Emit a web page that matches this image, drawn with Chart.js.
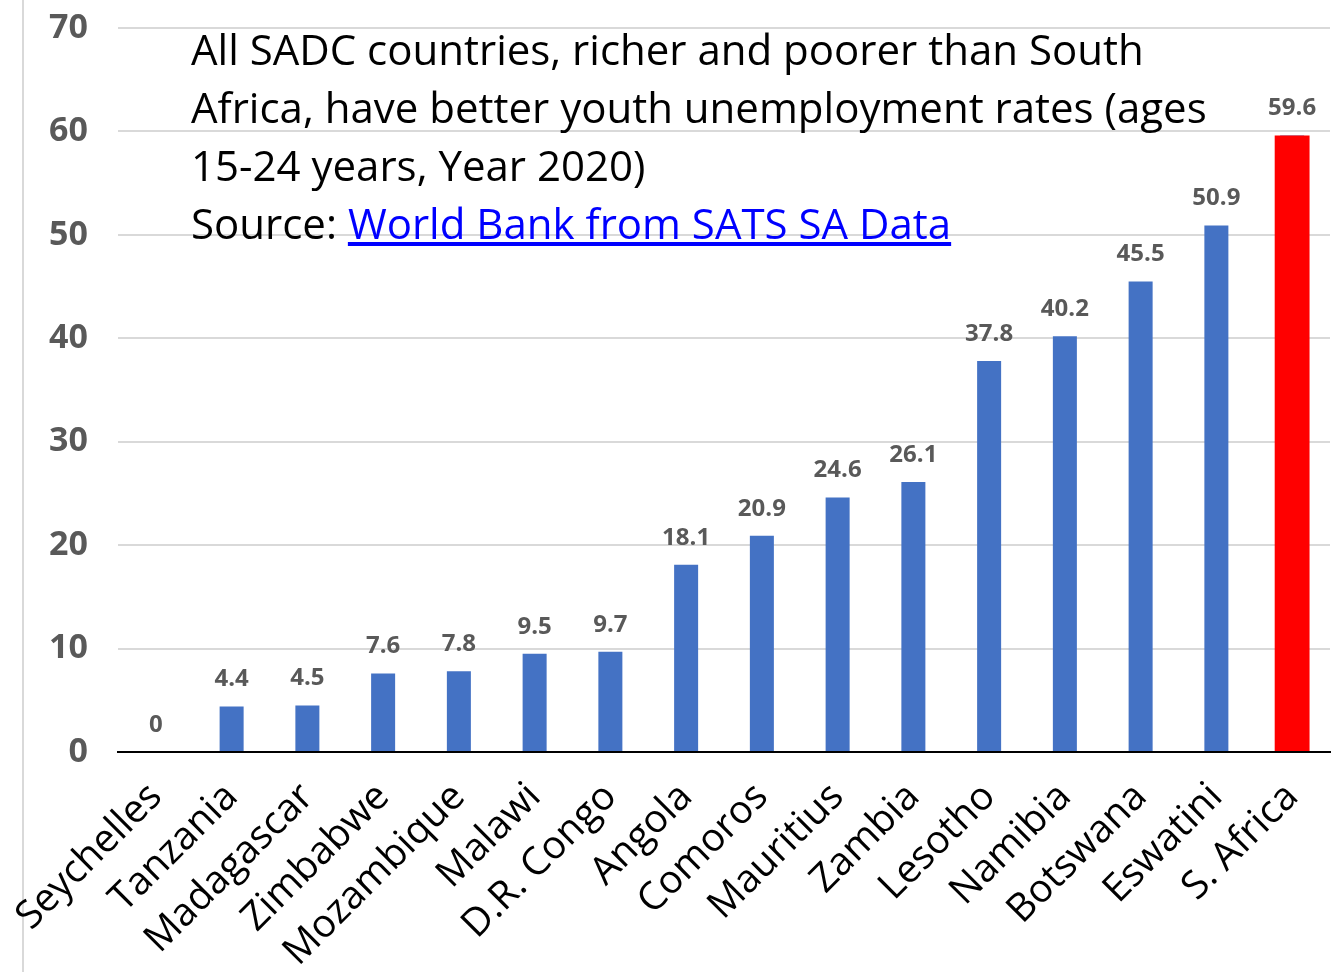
<!DOCTYPE html>
<html>
<head>
<meta charset="utf-8">
<script src="https://cdn.jsdelivr.net/npm/chart.js@4"></script>
<style>
  html, body { margin: 0; padding: 0; background: #fff; }
  #wrap { position: relative; width: 1340px; height: 972px; }
  #note {
    position: absolute; left: 191px; top: 20px;
    font-family: "Open Sans", sans-serif; font-size: 42px; line-height: 58px;
    color: #000;
  }
  #note a { color: #0000ff; text-decoration: underline; }
</style>
</head>
<body>
<div id="wrap">
  <canvas id="chart" width="1340" height="972"></canvas>
  <div id="note">All SADC countries, richer and poorer than South<br>Africa, have better youth unemployment rates (ages<br>15-24 years, Year 2020)<br>Source: <a href="#">World Bank from SATS SA Data</a></div>
</div>
<script>
// countries and youth unemployment rates (%)
const countries = ['Seychelles', 'Tanzania', 'Madagascar', 'Zimbabwe', 'Mozambique', 'Malawi', 'D.R. Congo',
  'Angola', 'Comoros', 'Mauritius', 'Zambia', 'Lesotho', 'Namibia', 'Botswana', 'Eswatini', 'S. Africa'];
const rates = [0, 4.4, 4.5, 7.6, 7.8, 9.5, 9.7, 18.1, 20.9, 24.6, 26.1, 37.8, 40.2, 45.5, 50.9, 59.6];
// only South Africa is highlighted
const highlight = [null, null, null, null, null, null, null, null, null, null, null, null, null, null, null, 59.6];
const yTicks = [0, 10, 20, 30, 40, 50, 60, 70];

// value labels above the blue bars
const valueLabels = {
    id: 'valueLabels',
    afterDatasetsDraw(chart) {
        const ctx = chart.ctx;
        const meta = chart.getDatasetMeta(0);
        ctx.save();
        ctx.font = 'bold 24px "Open Sans", sans-serif';
        ctx.fillStyle = '#595959';
        ctx.textAlign = 'center';
        ctx.textBaseline = 'middle';
        meta.data.forEach((bar, i) => {
            ctx.fillText(String(rates[i]), bar.x, bar.y - 27);
        });
        ctx.restore();
    }
};

// thin grey frame line on the left edge
const leftRule = {
    id: 'leftRule',
    beforeDraw(chart) {
        const ctx = chart.ctx;
        ctx.save();
        ctx.strokeStyle = '#d9d9d9';
        ctx.lineWidth = 2;
        ctx.beginPath();
        ctx.moveTo(23, 0);
        ctx.lineTo(23, chart.height);
        ctx.stroke();
        ctx.restore();
    }
};

const ctx = document.getElementById('chart').getContext('2d');
new Chart(ctx, {
    type: 'bar',
    data: {
        labels: countries,
        datasets: [{
            data: rates,
            backgroundColor: '#4472c4',
            barPercentage: 0.317,
            categoryPercentage: 1,
            grouped: false,
            order: 2
        }, {
            data: highlight,
            backgroundColor: '#ff0000',
            barPercentage: 0.46,
            categoryPercentage: 1,
            grouped: false,
            order: 1
        }]
    },
    options: {
        responsive: false,
        animation: false,
        layout: { padding: { left: 0, top: 28, right: 10, bottom: 0 } },
        plugins: {
            legend: { display: false },
            tooltip: { enabled: false }
        },
        scales: {
            x: {
                grid: { display: false },
                border: { display: true, color: '#000', width: 2 },
                ticks: {
                    color: '#000',
                    font: { family: 'Open Sans', size: 39 },
                    maxRotation: 45,
                    minRotation: 45,
                    autoSkip: false,
                    padding: 14
                },
                afterFit(scale) { scale.height = 220; }
            },
            y: {
                min: 0,
                max: 70,
                grid: { color: '#d9d9d9', lineWidth: 2, drawTicks: false },
                border: { display: false },
                afterBuildTicks(scale) { scale.ticks = yTicks.map(v => ({ value: v })); },
                ticks: {
                    color: '#595959',
                    font: { family: 'Open Sans', size: 34, weight: 'bold' },
                    padding: 30
                },
                afterFit(scale) {
                    scale.width = 118;
                    scale.paddingTop = 0;
                    scale.paddingBottom = 0;
                }
            }
        }
    },
    plugins: [valueLabels, leftRule]
});
</script>
</body>
</html>
